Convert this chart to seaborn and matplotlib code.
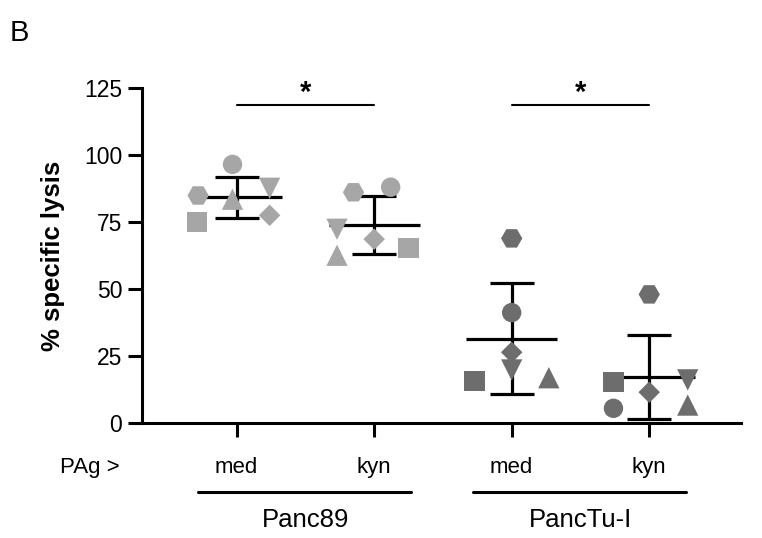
import numpy as np
import pandas as pd
import seaborn as sns
import matplotlib.pyplot as plt

# conditions along the x axis
conditions = ['Panc89 med', 'Panc89 kyn', 'PancTu-I med', 'PancTu-I kyn']
tick_labels = ['med', 'kyn', 'med', 'kyn']
cell_lines = ['Panc89', 'PancTu-I']
donors = ['hexagon', 'circle', 'triangle_up', 'square', 'triangle_down', 'diamond']

# % specific lysis per donor (same order as donors)
panc89_med = [85.0, 96.6, 83.6, 75.0, 87.7, 77.6]
panc89_kyn = [86.2, 88.1, 62.7, 65.3, 72.4, 68.7]
panctu_med = [69.0, 41.3, 17.0, 15.9, 19.9, 26.5]
panctu_kyn = [48.1, 5.6, 6.8, 15.5, 16.2, 11.6]

# horizontal scatter of points within a column (category units)
spread_panc89_med = [-0.28, -0.03, -0.03, -0.29, 0.24, 0.24]
spread_panc89_kyn = [-0.15, 0.12, -0.27, 0.25, -0.27, 0.0]
spread_panctu_med = [0.0, 0.0, 0.27, -0.27, 0.0, 0.0]
spread_panctu_kyn = [0.0, -0.26, 0.28, -0.26, 0.28, 0.0]

values = [panc89_med, panc89_kyn, panctu_med, panctu_kyn]
spreads = [spread_panc89_med, spread_panc89_kyn, spread_panctu_med, spread_panctu_kyn]

rows = []
for i, (vals, spr) in enumerate(zip(values, spreads)):
    for d, v, o in zip(donors, vals, spr):
        rows.append({'pos': i + o, 'lysis': v, 'donor': d,
                     'line': cell_lines[i // 2]})
df = pd.DataFrame(rows)

sns.set_style('white')
plt.rcParams['font.family'] = ['Liberation Sans', 'DejaVu Sans']
plt.rcParams['text.color'] = 'black'
plt.rcParams['axes.labelcolor'] = 'black'
plt.rcParams['axes.edgecolor'] = 'black'
plt.rcParams['xtick.color'] = 'black'
plt.rcParams['ytick.color'] = 'black'

fig = plt.figure(figsize=(7.62, 5.38), dpi=100)
ax = fig.add_axes([0.186, 0.2132, 0.786, 0.6227])

# mean +/- SD
lw = 2.3
for i, vals in enumerate(values):
    m = np.mean(vals)
    sd = np.std(vals, ddof=1)
    ax.hlines(m, i - 0.33, i + 0.33, color='black', lw=lw, zorder=1)
    ax.errorbar(i, m, yerr=sd, fmt='none', ecolor='black', elinewidth=lw,
                capsize=22 * 0.72, capthick=lw, zorder=1)

markers = {'hexagon': 'H', 'circle': 'o', 'triangle_up': '^', 'square': 's',
           'triangle_down': 'v', 'diamond': 'D'}
sizes = {'hexagon': 235, 'circle': 195, 'triangle_up': 235, 'square': 215,
         'triangle_down': 235, 'diamond': 120}
sns.scatterplot(data=df, x='pos', y='lysis', hue='line', style='donor',
                size='donor', markers=markers, sizes=sizes,
                palette={'Panc89': '#a6a6a6', 'PancTu-I': '#6d6d6d'},
                edgecolor='none', linewidth=0, legend=False, zorder=3, ax=ax)

ax.set_xlim(-0.69, 3.665)
ax.set_ylim(0, 125)
ax.set_yticks([0, 25, 50, 75, 100, 125])
ax.set_xticks(range(len(conditions)))
ax.set_xticklabels([])
ax.set_xlabel('')
ax.set_ylabel('% specific lysis', fontsize=18.5, fontweight='bold', labelpad=14)
sns.despine(ax=ax)
for s in ['left', 'bottom']:
    ax.spines[s].set_linewidth(2.2)
ax.tick_params(axis='both', direction='out', length=10, width=2.2,
               labelsize=16.5, left=True, bottom=True)
ax.tick_params(axis='y', pad=4)

# significance bars
for a, b in [(0, 1), (2, 3)]:
    ax.plot([a, b], [118.8, 118.8], color='black', lw=1.5, clip_on=False)
    ax.text((a + b) / 2, 118.0, '*', ha='center', va='bottom',
            fontsize=21, fontweight='bold')

# condition labels under the axis
tr = ax.get_xaxis_transform()
for i, lab in enumerate(tick_labels):
    ax.text(i, -0.133, lab, transform=tr, ha='center', va='center', fontsize=16)
ax.text(-1.07, -0.133, 'PAg >', transform=tr, ha='center', va='center',
        fontsize=16)
for j, name in enumerate(cell_lines):
    a, b = 2 * j, 2 * j + 1
    ax.plot([a - 0.28, b + 0.27], [-0.205, -0.205], transform=tr,
            color='black', lw=2.2, clip_on=False)
    ax.text((a + b) / 2, -0.29, name, transform=tr, ha='center', va='center',
            fontsize=18.5)

fig.text(0.013, 0.938, 'B', fontsize=21, ha='left', va='center')

fig.savefig('out.png', dpi=100)
